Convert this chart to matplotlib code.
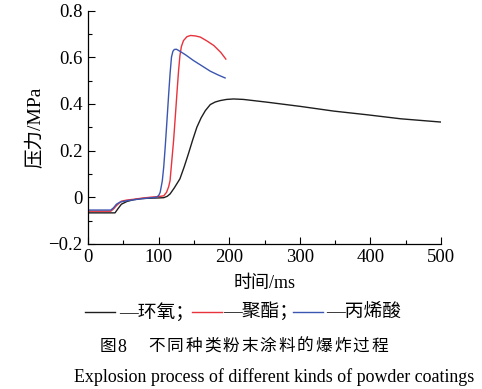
import matplotlib
matplotlib.use("Agg")
import matplotlib.pyplot as plt
from matplotlib.lines import Line2D
from matplotlib.ticker import MultipleLocator

# Data
epoxy_t = [0, 38, 42, 47, 55, 64, 75, 88, 100, 107, 112, 116, 122, 130, 136, 142, 148, 154, 160, 166, 173, 180, 187, 196, 206, 220, 254, 301, 348, 396, 443, 500]
epoxy_p = [-0.067, -0.067, -0.05, -0.03, -0.018, -0.011, -0.006, -0.004, -0.003, -0.002, 0.004, 0.014, 0.04, 0.079, 0.13, 0.186, 0.245, 0.30, 0.34, 0.371, 0.397, 0.408, 0.414, 0.419, 0.421, 0.419, 0.407, 0.389, 0.369, 0.353, 0.336, 0.322]

polyester_t = [0, 32, 36, 40, 47, 55, 64, 76, 88, 100, 107, 111, 114, 116, 118, 121, 124, 126, 128, 130, 132, 135, 140, 145, 152, 159, 168, 178, 188, 195]
polyester_p = [-0.06, -0.06, -0.05, -0.036, -0.017, -0.012, -0.009, -0.004, 0.0, 0.003, 0.006, 0.021, 0.045, 0.071, 0.14, 0.243, 0.37, 0.457, 0.54, 0.607, 0.645, 0.671, 0.688, 0.693, 0.691, 0.686, 0.67, 0.65, 0.62, 0.592]

acrylic_t = [0, 32, 36, 40, 45, 55, 64, 80, 97, 100, 102, 105, 107, 109, 111, 114, 116, 118, 120, 122, 125, 128, 138, 149, 160, 173, 184, 194]
acrylic_p = [-0.055, -0.055, -0.045, -0.03, -0.021, -0.015, -0.011, -0.005, 0.0, 0.008, 0.021, 0.07, 0.129, 0.21, 0.30, 0.44, 0.529, 0.60, 0.625, 0.633, 0.634, 0.629, 0.61, 0.586, 0.565, 0.54, 0.524, 0.511]

xticks = [0, 100, 200, 300, 400, 500]
yticks = [-0.2, 0, 0.2, 0.4, 0.6, 0.8]
ytick_labels = ["\u22120.2", "0", "0.2", "0.4", "0.6", "0.8"]

fonts = ["Liberation Serif", "Noto Sans CJK SC", "DejaVu Sans"]
plt.rcParams["font.family"] = fonts
plt.rcParams["axes.unicode_minus"] = True

fig = plt.figure(figsize=(4.82, 3.89), dpi=100)
ax = fig.add_axes([0.183, 0.373, 0.732, 0.6])

c_black = "#1e1e1e"
c_red = "#e8323c"
c_blue = "#3a56b0"
ax.plot(epoxy_t, epoxy_p, color=c_black, lw=1.0)
ax.plot(polyester_t, polyester_p, color=c_red, lw=1.0)
ax.plot(acrylic_t, acrylic_p, color=c_blue, lw=1.0)

ax.set_xlim(0, 500)
ax.set_ylim(-0.2, 0.8)
ax.set_xticks(xticks)
ax.set_yticks(yticks)
ax.set_yticklabels(ytick_labels, family=fonts)
ax.set_xticklabels([str(v) for v in xticks], family=fonts)
ax.xaxis.set_minor_locator(MultipleLocator(50))
ax.yaxis.set_minor_locator(MultipleLocator(0.1))
ax.spines["top"].set_visible(False)
ax.spines["right"].set_visible(False)
for s in ("left", "bottom"):
    ax.spines[s].set_linewidth(0.9)
ax.tick_params(which="major", direction="in", length=5, width=0.8, labelsize=13.5, pad=4)
ax.tick_params(which="minor", direction="in", length=3, width=0.8)

ax.set_xlabel("时间/ms", fontsize=13, family=fonts, labelpad=6)
ax.set_ylabel("压力/MPa", fontsize=14, family=fonts)
ax.yaxis.set_label_coords(-0.125, 0.5)

W, H = 482.0, 389.0
def fx(px):
    return px / W
def fy(py):
    return 1 - py / H

# Legend line row
ly = 312
for (x0, x1, col, txt, tx) in [(85, 115, c_black, "—环氧；", 119),
                                 (192, 222, c_red, "—聚酯；", 223),
                                 (293, 323, c_blue, "—丙烯酸", 326)]:
    fig.add_artist(Line2D([fx(x0), fx(x1)], [fy(ly), fy(ly)], color=col, lw=1.0))
    fig.text(fx(tx), fy(ly), txt, fontsize=13.5, family=fonts, ha="left", va="center")

# Caption
fig.text(fx(100), fy(347), "图", fontsize=12, family=fonts, ha="left", va="center")
fig.text(fx(117), fy(347), "8", fontsize=13, family=fonts, ha="left", va="center")
cap = "不同种类粉末涂料的爆炸过程"
for i, ch in enumerate(cap):
    fig.text(fx(148 + i * 18.6), fy(347), ch, fontsize=12, family=fonts, ha="left", va="center")

fig.text(fx(274), fy(377), "Explosion process of different kinds of powder coatings",
         fontsize=12.9, family=fonts, ha="center", va="center")

fig.savefig("out.png", dpi=100)
